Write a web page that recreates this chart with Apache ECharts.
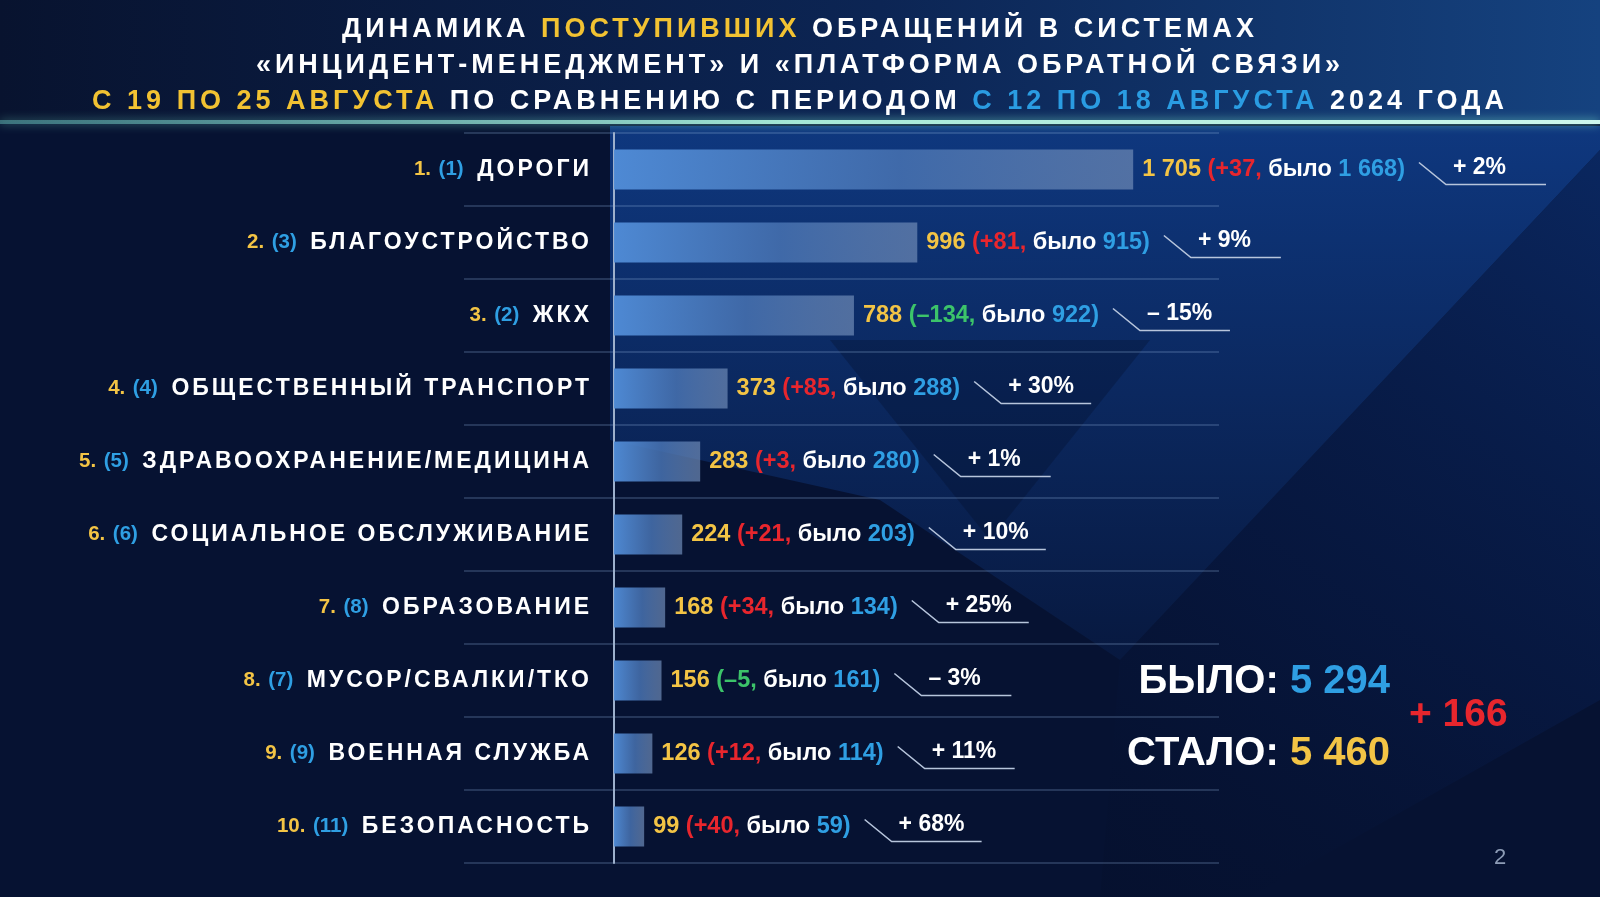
<!DOCTYPE html>
<html><head><meta charset="utf-8">
<script src="https://cdn.jsdelivr.net/npm/echarts@6/dist/echarts.min.js"></script>
<style>html,body{margin:0;padding:0;background:#061232;}#c{width:1600px;height:897px;}</style>
</head><body><div id="c"></div>
<script>
// letter tracking for wide-spaced headings (weight 600 -> 3px, 800 -> 4px)
(function(){
  var P = CanvasRenderingContext2D.prototype;
  var d = Object.getOwnPropertyDescriptor(P, 'font');
  if (!d || !('letterSpacing' in P)) return;
  Object.defineProperty(P, 'font', {configurable: true, enumerable: d.enumerable,
    get: function(){ return d.get.call(this); },
    set: function(v){ d.set.call(this, v); var s = '0px';
      if (/(^|\s)800\s/.test(v)) s = '4px'; else if (/(^|\s)600\s/.test(v)) s = '3px';
      if (this.letterSpacing !== s) this.letterSpacing = s; }});
})();

const categories = ['ДОРОГИ','БЛАГОУСТРОЙСТВО','ЖКХ','ОБЩЕСТВЕННЫЙ ТРАНСПОРТ','ЗДРАВООХРАНЕНИЕ/МЕДИЦИНА','СОЦИАЛЬНОЕ ОБСЛУЖИВАНИЕ','ОБРАЗОВАНИЕ','МУСОР/СВАЛКИ/ТКО','ВОЕННАЯ СЛУЖБА','БЕЗОПАСНОСТЬ'];
const ranks = ['1.','2.','3.','4.','5.','6.','7.','8.','9.','10.'];
const prevRanks = ['(1)','(3)','(2)','(4)','(5)','(6)','(8)','(7)','(9)','(11)'];
const current = [1705, 996, 788, 373, 283, 224, 168, 156, 126, 99];
const previous = [1668, 915, 922, 288, 280, 203, 134, 161, 114, 59];
const percentLabels = ['+ 2%','+ 9%','– 15%','+ 30%','+ 1%','+ 10%','+ 25%','– 3%','+ 11%','+ 68%'];
const totalPrevious = '5 294';
const totalCurrent = '5 460';
const totalChange = '+ 166';
const pageNumber = '2';

const FONT = "'Liberation Sans', Arial, Helvetica, sans-serif";
const YEL = '#f3c445', BLUE = '#2f9fe3', RED = '#e8262d', GREEN = '#3cc46a';
const VFS = 23.5;

function fmt(n){ return String(n).replace(/\B(?=(\d{3})+(?!\d))/g, ' '); }
function deltaText(i){ const d = current[i] - previous[i]; return d >= 0 ? '+' + d : '–' + Math.abs(d); }
function labelParts(i){
  return [fmt(current[i]), '(' + deltaText(i) + ',', 'было', fmt(previous[i]) + ')'];
}

const chart = echarts.init(document.getElementById('c'), null, {renderer: 'canvas'});

const titleRich = {
  w: {color: '#ffffff', fontSize: 27, fontWeight: 800, fontFamily: FONT, lineHeight: 32},
  y: {color: '#f2c232', fontSize: 27, fontWeight: 800, fontFamily: FONT, lineHeight: 32},
  b: {color: '#2a9ce2', fontSize: 27, fontWeight: 800, fontFamily: FONT, lineHeight: 32}
};

chart.setOption({
  backgroundColor: '#061232',
  animation: false,
  title: [
    {text: '{w|ДИНАМИКА }{y|ПОСТУПИВШИХ}{w| ОБРАЩЕНИЙ В СИСТЕМАХ}', left: 'center', top: 14, padding: 0, textStyle: {rich: titleRich}},
    {text: '{w|«ИНЦИДЕНТ-МЕНЕДЖМЕНТ» И «ПЛАТФОРМА ОБРАТНОЙ СВЯЗИ»}', left: 'center', top: 50, padding: 0, textStyle: {rich: titleRich}},
    {text: '{y|С 19 ПО 25 АВГУСТА}{w| ПО СРАВНЕНИЮ С ПЕРИОДОМ }{b|С 12 ПО 18 АВГУСТА}{w| 2024 ГОДА}', left: 'center', top: 86, padding: 0, textStyle: {rich: titleRich}}
  ],
  grid: [
    {left: 614, width: 609, top: 133, height: 730},
    {left: 464, width: 755, top: 133, height: 730}
  ],
  xAxis: [
    {type: 'value', gridIndex: 0, min: 0, max: 2000, show: false},
    {type: 'value', gridIndex: 1, min: 0, max: 1, show: false}
  ],
  yAxis: [
    {type: 'category', gridIndex: 0, data: categories, inverse: true,
     axisLine: {show: true, lineStyle: {color: '#9db0cc', width: 2}},
     axisTick: {show: false}, splitLine: {show: false},
     axisLabel: {
       margin: 22, align: 'right', fontSize: 20, fontWeight: 'bold', fontFamily: FONT, color: '#fff',
       formatter: function(val, idx){ return '{r|' + ranks[idx] + '} {p|' + prevRanks[idx] + '} {n|' + val + '}'; },
       rich: {
         r: {color: YEL, fontSize: 20.5, fontWeight: 'bold', fontFamily: FONT, padding: [0, 2, 0, 0]},
         p: {color: BLUE, fontSize: 20.5, fontWeight: 'bold', fontFamily: FONT},
         n: {color: '#ffffff', fontSize: 23, fontWeight: 600, fontFamily: FONT, padding: [0, 0, 0, 8]}
       }
     }},
    {type: 'category', gridIndex: 1, data: categories, inverse: true,
     axisLine: {show: false}, axisTick: {show: false}, axisLabel: {show: false},
     splitLine: {show: true, lineStyle: {color: 'rgba(140,170,215,0.32)', width: 1.5}}}
  ],
  series: [{
    type: 'bar', xAxisIndex: 0, yAxisIndex: 0, data: current, barWidth: 40, z: 3,
    itemStyle: {color: new echarts.graphic.LinearGradient(0, 0, 1, 0, [
      {offset: 0, color: 'rgba(80,140,215,0.97)'},
      {offset: 0.55, color: 'rgba(72,115,178,0.85)'},
      {offset: 1, color: 'rgba(108,136,180,0.72)'}
    ])},
    label: {
      show: true, position: 'right', distance: 9,
      fontSize: VFS, fontWeight: 'bold', fontFamily: FONT, color: '#fff',
      formatter: function(p){
        const i = p.dataIndex, parts = labelParts(i);
        const dk = current[i] >= previous[i] ? 'dp' : 'dn';
        return '{v|' + parts[0] + '} {' + dk + '|' + parts[1] + '} {w|' + parts[2] + '} {b|' + parts[3] + '}';
      },
      rich: {
        v: {color: YEL, fontSize: VFS, fontWeight: 'bold', fontFamily: FONT},
        dp: {color: RED, fontSize: VFS, fontWeight: 'bold', fontFamily: FONT},
        dn: {color: GREEN, fontSize: VFS, fontWeight: 'bold', fontFamily: FONT},
        w: {color: '#ffffff', fontSize: VFS, fontWeight: 'bold', fontFamily: FONT},
        b: {color: BLUE, fontSize: VFS, fontWeight: 'bold', fontFamily: FONT}
      }
    }
  }]
});

// measure label widths to place the percentage callouts
const mctx = document.createElement('canvas').getContext('2d');
mctx.font = 'bold ' + VFS + 'px ' + FONT;
const els = [];

// background decoration
els.push({type: 'rect', z: -20, silent: true, shape: {x: 0, y: 0, width: 1600, height: 122},
  style: {fill: new echarts.graphic.LinearGradient(0, 0, 1, 0, [
    {offset: 0, color: '#08132f'}, {offset: 0.55, color: '#0c2554'}, {offset: 1, color: '#15427f'}])}});
els.push({type: 'polygon', z: -19, silent: true,
  shape: {points: [[610, 126], [1600, 126], [1600, 150], [1120, 660], [880, 500], [610, 440]]},
  style: {fill: new echarts.graphic.LinearGradient(0, 0, 0, 1, [
    {offset: 0, color: 'rgba(16,62,140,0.85)'}, {offset: 1, color: 'rgba(16,62,140,0.15)'}])}});
els.push({type: 'polygon', z: -19, silent: true,
  shape: {points: [[1600, 150], [1600, 700], [1250, 897], [1100, 897], [1120, 660]]},
  style: {fill: new echarts.graphic.LinearGradient(1, 0, 0, 1, [
    {offset: 0, color: 'rgba(12,48,115,0.7)'}, {offset: 0.6, color: 'rgba(8,30,80,0.35)'}, {offset: 1, color: 'rgba(4,12,35,0.2)'}])}});
els.push({type: 'polygon', z: -18, silent: true,
  shape: {points: [[830, 340], [990, 540], [1150, 340]]},
  style: {fill: 'rgba(4,14,40,0.3)'}});
els.push({type: 'rect', z: -10, silent: true, shape: {x: 0, y: 120, width: 1600, height: 4},
  style: {fill: new echarts.graphic.LinearGradient(0, 0, 1, 0, [
    {offset: 0, color: 'rgba(90,170,170,0.55)'}, {offset: 0.5, color: '#a6e9d6'}, {offset: 1, color: '#cdf7ec'}]),
    shadowBlur: 10, shadowColor: 'rgba(120,225,200,0.8)'}});

current.forEach(function(v, i){
  const pt = chart.convertToPixel({gridIndex: 0}, [v, i]);
  const parts = labelParts(i);
  const w = mctx.measureText(parts.join(' ')).width;
  const x0 = pt[0] + 9 + w + 14, yc = pt[1];
  els.push({type: 'polyline', z: 10, silent: true,
    shape: {points: [[x0, yc - 7], [x0 + 27, yc + 15], [x0 + 27 + (i === 0 ? 100 : 90), yc + 15]]},
    style: {stroke: '#b7c5dc', lineWidth: 1.6, fill: null}});
  els.push({type: 'text', z: 10, silent: true, x: x0 + 34, y: yc - 2,
    style: {text: percentLabels[i], fill: '#ffffff', font: 'bold 23px ' + FONT, verticalAlign: 'middle', align: 'left'}});
});

const bigRich = {
  w: {fill: '#ffffff', fontSize: 40, fontWeight: 'bold', fontFamily: FONT},
  b: {fill: BLUE, fontSize: 40, fontWeight: 'bold', fontFamily: FONT},
  y: {fill: YEL, fontSize: 40, fontWeight: 'bold', fontFamily: FONT}
};
els.push({type: 'text', z: 10, x: 1390, y: 682, style: {text: '{w|БЫЛО:} {b|' + totalPrevious + '}', rich: bigRich, font: 'bold 40px ' + FONT, align: 'right', verticalAlign: 'middle'}});
els.push({type: 'text', z: 10, x: 1390, y: 754, style: {text: '{w|СТАЛО:} {y|' + totalCurrent + '}', rich: bigRich, font: 'bold 40px ' + FONT, align: 'right', verticalAlign: 'middle'}});
els.push({type: 'text', z: 10, x: 1409, y: 715, style: {text: totalChange, fill: RED, font: 'bold 39px ' + FONT, align: 'left', verticalAlign: 'middle'}});
els.push({type: 'text', z: 10, x: 1500, y: 858, style: {text: pageNumber, fill: '#8d9cb6', font: '22px ' + FONT, align: 'center', verticalAlign: 'middle'}});

chart.setOption({graphic: {elements: els}});
</script>
</body></html>
